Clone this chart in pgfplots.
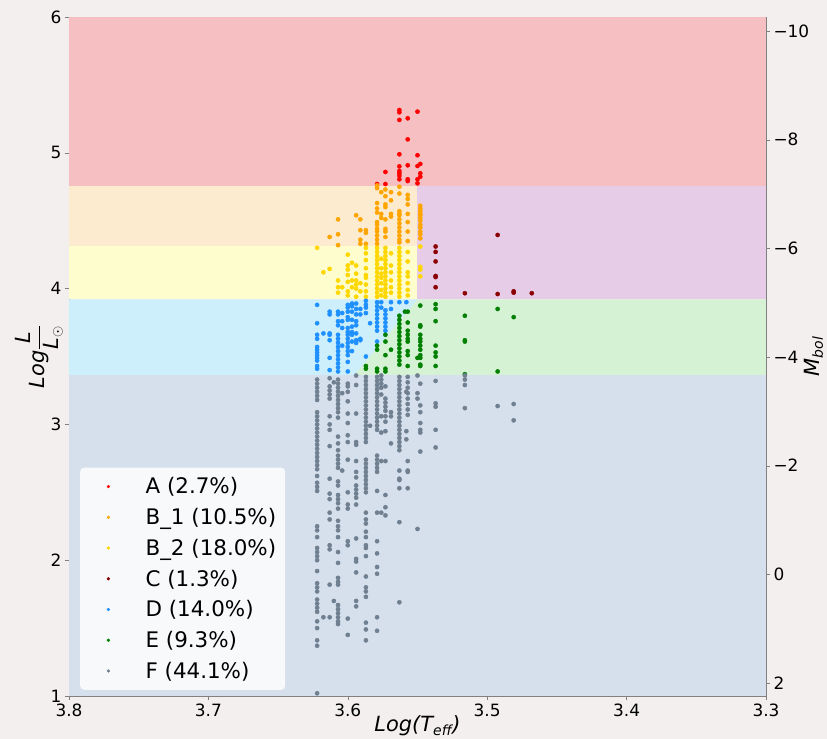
\documentclass[border=0pt]{standalone}
\usepackage{pgfplots}
\pgfplotsset{compat=1.18}
\usepackage{fontspec}
\setmainfont{DejaVu Sans}
\definecolor{bgc}{HTML}{F3EFEE}
\definecolor{rA}{HTML}{F6BFC1}
\definecolor{rB1}{HTML}{FDEBD0}
\definecolor{rB2}{HTML}{FDFDCD}
\definecolor{rC}{HTML}{E6CCE7}
\definecolor{rD}{HTML}{CDEFFC}
\definecolor{rE}{HTML}{D5F2D5}
\definecolor{rF}{HTML}{D6E0EC}
\definecolor{cA}{HTML}{FF0000}
\definecolor{cB1}{HTML}{FFA500}
\definecolor{cB2}{HTML}{FFD700}
\definecolor{cC}{HTML}{8B0000}
\definecolor{cD}{HTML}{1E90FF}
\definecolor{cE}{HTML}{008000}
\definecolor{cF}{HTML}{708090}
\definecolor{legbg}{HTML}{F8F9FB}
\definecolor{spine}{HTML}{808080}
\pgfplotsset{pt/.style={only marks, mark=*, mark size=2.1bp, color=#1, mark options={draw=none, fill=#1}}}
\begin{document}
\begin{tikzpicture}
\path[use as bounding box, fill=bgc] (-69bp,-43bp) rectangle (758bp,696bp);
\begin{axis}[
  at={(0,0)}, anchor=south west,
  scale only axis, width=697bp, height=679bp,
  xmin=3.3, xmax=3.8, x dir=reverse,
  ymin=1, ymax=6,
  xtick={3.8,3.7,3.6,3.5,3.4,3.3}, xticklabels={3.8,3.7,3.6,3.5,3.4,3.3},
  ytick={1,2,3,4,5,6}, yticklabels={1,2,3,4,5,6},
  xtick pos=bottom, ytick pos=left,
  tick align=outside, major tick length=4bp,
  axis line style={draw=spine}, tick style={draw=spine},
  tick label style={font=\fontsize{17}{20}\selectfont},
  label style={font=\fontsize{21}{25}\selectfont},
  xlabel={\itshape Log(T$_{\mbox{\fontsize{14}{16}\selectfont\itshape eff}}$)},
  xlabel style={at={(axis description cs:0.5,-0.053)}, anchor=base},
  ylabel={\itshape Log$\displaystyle\frac{\mbox{\itshape L}}{\mbox{\itshape L}_\odot}$},
  ylabel shift=-19bp,
  legend style={at={(0.0158,0.0088)}, anchor=south west, fill=legbg, draw=none,
    rounded corners=4bp, font=\fontsize{21.5}{25}\selectfont, row sep=9bp, inner xsep=7bp, inner ysep=8bp},
  legend cell align=left,
  legend image code/.code={\draw[#1, mark size=1.4bp] plot coordinates {(21bp,0bp)}; \path (0bp,0bp) (56bp,0bp);},
]
\fill[rA] (axis cs:3.8,4.757) rectangle (axis cs:3.3,6);
\fill[rB1] (axis cs:3.8,4.316) rectangle (axis cs:3.55,4.757);
\fill[rB2] (axis cs:3.8,3.92) rectangle (axis cs:3.55,4.316);
\fill[rC] (axis cs:3.55,3.92) rectangle (axis cs:3.3,4.757);
\fill[rD] (axis cs:3.8,3.92) -- (axis cs:3.55,3.92) -- (axis cs:3.595,3.364) -- (axis cs:3.8,3.364) -- cycle;
\fill[rE] (axis cs:3.55,3.92) -- (axis cs:3.3,3.92) -- (axis cs:3.3,3.364) -- (axis cs:3.595,3.364) -- cycle;
\fill[rF] (axis cs:3.8,1) rectangle (axis cs:3.3,3.364);

\addplot[pt=cA] coordinates {
(3.563,5.315)(3.563,5.298)(3.563,5.242)(3.563,4.989)(3.563,4.90)(3.563,4.866)(3.563,4.849)(3.563,4.831)(3.563,4.805)
(3.557,5.254)(3.557,5.099)(3.557,4.908)(3.557,4.805)(3.557,4.792)
(3.550,5.303)(3.550,4.982)(3.548,4.918)(3.550,4.903)(3.548,4.849)(3.548,4.824)(3.550,4.805)(3.550,4.775)
(3.573,4.859)(3.579,4.77)(3.573,4.77)};
\addlegendentry{A (2.7\%)}

\addplot[pt=cB1] coordinates {
(3.579,4.76)(3.579,4.74)(3.579,4.63)(3.579,4.59)(3.579,4.56)(3.579,4.49)(3.579,4.47)(3.579,4.44)(3.579,4.42)(3.579,4.39)(3.579,4.36)(3.579,4.33)
(3.576,4.71)(3.576,4.55)(3.576,4.52)
(3.573,4.73)(3.573,4.68)(3.573,4.62)(3.573,4.60)(3.573,4.51)(3.573,4.44)(3.573,4.42)(3.573,4.38)
(3.569,4.71)(3.569,4.65)(3.569,4.55)(3.569,4.53)
(3.563,4.75)(3.563,4.70)(3.563,4.57)(3.563,4.55)(3.563,4.54)(3.563,4.51)(3.563,4.48)(3.563,4.45)(3.563,4.42)(3.563,4.39)(3.563,4.36)(3.563,4.34)
(3.557,4.69)(3.557,4.66)(3.557,4.62)(3.557,4.55)(3.557,4.49)(3.557,4.42)(3.557,4.35)
(3.548,4.61)(3.548,4.59)(3.548,4.57)(3.548,4.55)(3.548,4.54)(3.548,4.52)(3.548,4.50)(3.548,4.47)(3.548,4.45)(3.548,4.42)(3.548,4.40)(3.548,4.37)
(3.594,4.54)(3.607,4.51)(3.607,4.40)(3.607,4.32)(3.613,4.38)
(3.591,4.51)(3.591,4.43)(3.591,4.36)(3.591,4.33)
(3.587,4.43)(3.587,4.41)(3.587,4.33)};
\addlegendentry{B\_1 (10.5\%)}

\addplot[pt=cB2] coordinates {
(3.622,4.30)(3.6175,4.12)(3.613,4.145)
(3.607,4.06)(3.607,4.01)(3.607,3.97)(3.604,4.01)
(3.600,4.25)(3.600,4.17)(3.600,4.14)(3.600,4.10)(3.600,4.05)(3.600,3.98)(3.600,3.95)
(3.597,4.19)(3.597,4.06)(3.597,4.01)
(3.594,4.17)(3.594,4.11)(3.594,4.06)(3.594,4.03)(3.594,4.00)(3.594,3.94)
(3.591,4.04)(3.591,3.98)
(3.587,4.30)(3.587,4.26)(3.587,4.21)(3.587,4.15)(3.587,4.10)(3.587,4.08)(3.587,4.03)(3.587,3.98)(3.587,3.94)
(3.579,4.30)(3.579,4.27)(3.579,4.24)(3.579,4.21)(3.579,4.18)(3.579,4.15)(3.579,4.12)(3.579,4.09)(3.579,4.06)(3.579,4.03)(3.579,4.00)(3.579,3.97)(3.579,3.94)
(3.576,4.22)(3.576,4.15)(3.576,4.11)(3.576,4.08)(3.576,4.04)(3.576,3.99)(3.576,3.95)
(3.573,4.30)(3.573,4.27)(3.573,4.24)(3.573,4.21)(3.573,4.18)(3.573,4.15)(3.573,4.12)(3.573,4.09)(3.573,4.06)(3.573,4.03)(3.573,4.00)(3.573,3.97)(3.573,3.94)
(3.569,4.26)(3.569,4.17)(3.569,4.12)(3.569,4.06)(3.569,4.01)(3.569,3.97)
(3.563,4.30)(3.563,4.27)(3.563,4.24)(3.563,4.21)(3.563,4.18)(3.563,4.15)(3.563,4.12)(3.563,4.09)(3.563,4.06)(3.563,4.03)(3.563,4.00)(3.563,3.97)(3.563,3.94)
(3.557,4.27)(3.557,4.20)(3.557,4.12)(3.557,4.09)(3.557,4.04)(3.557,3.99)(3.557,3.95)
(3.548,4.31)(3.548,4.16)(3.548,4.14)(3.548,4.09)};
\addlegendentry{B\_2 (18.0\%)}

\addplot[pt=cC] coordinates {
(3.537,4.31)(3.537,4.27)(3.537,4.20)(3.537,4.093)(3.537,4.085)(3.537,4.01)
(3.516,3.966)(3.4925,4.395)(3.4925,3.96)(3.481,3.98)(3.481,3.97)(3.468,3.966)};
\addlegendentry{C (1.3\%)}

\addplot[pt=cD] coordinates {
(3.622,3.88)(3.622,3.745)(3.622,3.66)(3.622,3.63)(3.622,3.57)(3.622,3.55)(3.622,3.53)(3.622,3.51)(3.622,3.49)(3.622,3.47)(3.622,3.43)(3.622,3.41)
(3.6175,3.67)
(3.613,3.83)(3.613,3.81)(3.613,3.67)(3.613,3.66)(3.613,3.62)(3.613,3.49)(3.613,3.40)
(3.607,3.83)(3.607,3.81)(3.607,3.76)(3.607,3.73)(3.607,3.66)(3.607,3.63)(3.607,3.60)(3.607,3.57)(3.607,3.54)(3.607,3.51)(3.607,3.48)(3.607,3.45)(3.607,3.42)(3.607,3.39)
(3.604,3.82)(3.604,3.76)(3.604,3.71)(3.604,3.58)
(3.600,3.88)(3.600,3.86)(3.600,3.83)(3.600,3.79)(3.600,3.77)(3.600,3.71)(3.600,3.68)(3.600,3.66)(3.600,3.63)(3.600,3.60)(3.600,3.57)(3.600,3.54)(3.600,3.51)(3.600,3.46)(3.600,3.39)
(3.597,3.89)(3.597,3.87)(3.597,3.83)(3.597,3.77)(3.597,3.72)(3.597,3.68)(3.597,3.66)(3.597,3.61)(3.597,3.54)
(3.594,3.89)(3.594,3.85)(3.594,3.81)(3.594,3.76)(3.594,3.73)(3.594,3.67)(3.594,3.62)(3.594,3.60)
(3.591,3.85)(3.591,3.81)(3.591,3.63)(3.591,3.62)
(3.587,3.91)(3.587,3.88)(3.587,3.86)(3.587,3.82)(3.587,3.50)
(3.584,3.745)
(3.579,3.90)(3.579,3.87)(3.579,3.84)(3.579,3.81)(3.579,3.78)(3.579,3.75)(3.579,3.72)(3.579,3.69)(3.579,3.61)
(3.576,3.90)(3.576,3.86)
(3.573,3.84)(3.573,3.81)(3.573,3.78)(3.573,3.75)(3.573,3.72)(3.573,3.69)
(3.569,3.90)(3.569,3.85)(3.563,3.90)(3.558,3.90)};
\addlegendentry{D (14.0\%)}

\addplot[pt=cE] coordinates {
(3.537,3.885)(3.537,3.85)(3.537,3.76)(3.537,3.58)(3.537,3.53)(3.537,3.50)(3.537,3.43)
(3.516,3.80)(3.516,3.62)(3.516,3.61)(3.516,3.37)
(3.4925,3.85)(3.4925,3.39)(3.481,3.79)
(3.548,3.875)(3.548,3.73)(3.548,3.72)(3.548,3.66)(3.548,3.63)(3.548,3.61)(3.548,3.58)(3.548,3.55)(3.548,3.51)(3.548,3.49)(3.548,3.44)(3.548,3.43)
(3.550,3.49)
(3.557,3.83)(3.557,3.75)(3.557,3.69)(3.557,3.66)(3.557,3.63)(3.557,3.61)(3.557,3.54)(3.557,3.51)(3.557,3.43)
(3.563,3.80)(3.563,3.77)(3.563,3.74)(3.563,3.71)(3.563,3.68)(3.563,3.65)(3.563,3.62)(3.563,3.59)(3.563,3.56)(3.563,3.53)(3.563,3.50)(3.563,3.47)(3.563,3.44)
(3.569,3.55)
(3.573,3.66)(3.573,3.61)(3.573,3.51)(3.573,3.41)(3.573,3.39)
(3.579,3.58)(3.579,3.55)(3.579,3.41)(3.579,3.39)
(3.587,3.43)(3.587,3.41)(3.559,3.83)};
\addlegendentry{E (9.3\%)}

\addplot[pt=cF] coordinates {
(3.622,3.33)(3.622,3.30)(3.622,3.27)(3.622,3.24)(3.622,3.21)(3.622,3.18)(3.622,3.09)(3.622,3.06)(3.622,3.03)(3.622,3.00)(3.622,2.97)(3.622,2.94)(3.622,2.91)(3.622,2.88)(3.622,2.85)(3.622,2.82)(3.622,2.79)(3.622,2.76)(3.622,2.73)(3.622,2.70)(3.622,2.67)(3.622,2.62)(3.622,2.57)(3.622,2.54)(3.622,2.51)(3.622,2.25)(3.622,2.22)(3.622,2.17)(3.622,2.09)(3.622,2.06)(3.622,2.03)(3.622,2.00)(3.622,1.92)(3.622,1.83)(3.622,1.80)(3.622,1.77)(3.622,1.71)(3.622,1.68)(3.622,1.65)(3.622,1.62)(3.622,1.55)(3.622,1.50)(3.622,1.41)(3.622,1.37)(3.622,1.02)
(3.6175,1.58)
(3.613,3.34)(3.613,3.28)(3.613,3.25)(3.613,3.22)(3.613,3.19)(3.613,3.06)(3.613,3.00)(3.613,2.96)(3.613,2.84)(3.613,2.60)(3.613,2.49)(3.613,2.45)(3.613,2.35)(3.613,2.30)(3.613,2.11)(3.613,2.08)(3.613,1.82)(3.613,1.58)
(3.610,3.31)(3.610,1.70)
(3.607,3.33)(3.607,3.30)(3.607,3.27)(3.607,3.24)(3.607,3.21)(3.607,3.18)(3.607,3.15)(3.607,3.12)(3.607,3.09)(3.607,3.05)(3.607,2.91)(3.607,2.86)(3.607,2.81)(3.607,2.77)(3.607,2.74)(3.607,2.71)(3.607,2.68)(3.607,2.58)(3.607,2.55)(3.607,2.48)(3.607,2.45)(3.607,2.42)(3.607,2.38)(3.607,2.29)(3.607,2.25)(3.607,2.22)(3.607,2.17)(3.607,2.06)(3.607,1.98)(3.607,1.87)(3.607,1.84)(3.607,1.82)(3.607,1.67)(3.607,1.64)(3.607,1.61)(3.607,1.58)(3.607,1.55)(3.607,1.53)
(3.604,3.23)(3.604,2.66)
(3.600,3.30)(3.600,3.28)(3.600,3.24)(3.600,3.17)(3.600,3.08)(3.600,3.01)(3.600,2.92)(3.600,2.87)(3.600,2.74)(3.600,2.50)(3.600,2.41)(3.600,2.38)(3.600,2.14)(3.600,2.11)(3.600,1.57)(3.600,1.45)
(3.594,3.36)(3.594,3.29)(3.594,3.08)(3.594,2.87)(3.594,2.85)(3.594,2.73)(3.594,2.65)(3.594,2.61)(3.594,2.55)(3.594,2.52)(3.594,2.49)(3.594,2.46)(3.594,2.41)(3.594,2.16)(3.594,2.01)(3.594,1.99)(3.594,1.91)(3.594,1.70)(3.594,1.66)
(3.587,3.35)(3.587,3.32)(3.587,3.29)(3.587,3.26)(3.587,3.23)(3.587,3.20)(3.587,3.17)(3.587,3.14)(3.587,3.11)(3.587,3.08)(3.587,3.05)(3.587,3.02)(3.587,2.99)(3.587,2.96)(3.587,2.93)(3.587,2.90)(3.587,2.87)(3.587,2.74)(3.587,2.71)(3.587,2.68)(3.587,2.65)(3.587,2.62)(3.587,2.59)(3.587,2.56)(3.587,2.53)(3.587,2.50)(3.587,2.35)(3.587,2.30)(3.587,2.27)(3.587,2.21)(3.587,2.17)(3.587,2.11)(3.587,2.09)(3.587,2.03)(3.587,1.88)(3.587,1.80)(3.587,1.77)(3.587,1.73)(3.587,1.54)(3.587,1.49)(3.587,1.41)
(3.584,2.99)
(3.579,3.35)(3.579,3.32)(3.579,3.29)(3.579,3.26)(3.579,3.23)(3.579,3.20)(3.579,3.17)(3.579,3.14)(3.579,3.11)(3.579,3.08)(3.579,3.05)(3.579,3.02)(3.579,2.99)(3.579,2.96)(3.579,2.77)(3.579,2.74)(3.579,2.71)(3.579,2.68)(3.579,2.65)(3.579,2.51)(3.579,2.35)(3.579,2.14)(3.579,2.05)(3.579,1.95)(3.579,1.90)(3.579,1.58)(3.579,1.48)
(3.576,3.36)(3.576,3.33)(3.576,3.30)(3.576,3.27)(3.576,3.22)(3.576,3.06)(3.576,2.94)(3.576,2.73)(3.576,2.35)
(3.573,3.28)(3.573,3.19)(3.573,3.16)(3.573,3.13)(3.573,3.10)(3.573,3.06)(3.573,3.02)(3.573,2.95)(3.573,2.73)(3.573,2.48)(3.573,2.39)(3.573,2.33)
(3.569,3.09)(3.569,3.06)(3.569,2.86)
(3.563,3.35)(3.563,3.32)(3.563,3.29)(3.563,3.26)(3.563,3.23)(3.563,3.20)(3.563,3.17)(3.563,3.14)(3.563,3.11)(3.563,3.08)(3.563,3.05)(3.563,3.02)(3.563,2.99)(3.563,2.96)(3.563,2.93)(3.563,2.90)(3.563,2.87)(3.563,2.84)(3.563,2.81)(3.563,2.66)(3.563,2.60)(3.563,2.59)(3.563,2.53)(3.563,2.28)(3.563,1.69)
(3.558,3.24)(3.558,2.95)(3.558,2.89)
(3.557,3.35)(3.557,3.31)(3.557,3.27)(3.557,3.23)(3.557,3.19)(3.557,3.15)(3.557,3.11)(3.557,3.07)(3.557,2.73)(3.557,2.66)(3.557,2.65)(3.557,2.53)
(3.548,3.30)(3.548,3.14)(3.548,3.09)(3.548,3.01)(3.548,2.96)(3.548,2.94)(3.548,2.80)
(3.550,3.36)(3.550,3.23)(3.550,3.19)(3.550,2.23)
(3.537,3.32)(3.537,3.155)(3.537,3.13)(3.537,2.96)(3.537,2.83)
(3.516,3.36)(3.516,3.33)(3.516,3.29)(3.516,3.12)
(3.4925,3.135)(3.481,3.15)(3.481,3.03)};
\addlegendentry{F (44.1\%)}
\end{axis}
\begin{axis}[
  at={(0,0)}, anchor=south west,
  scale only axis, width=697bp, height=679bp,
  xmin=3.3, xmax=3.8, hide x axis,
  axis y line*=right,
  ymin=-10.26, ymax=2.24, y dir=reverse,
  ytick={-10,-8,-6,-4,-2,0,2}, yticklabels={−10,−8,−6,−4,−2,0,2},
  tick align=outside, major tick length=4bp,
  axis line style={draw=spine}, tick style={draw=spine},
  tick label style={font=\fontsize{17}{20}\selectfont},
  label style={font=\fontsize{21}{25}\selectfont},
  ylabel={\itshape M$_{\mbox{\fontsize{14}{16}\selectfont\itshape bol}}$},
  ylabel shift=-12bp,
]
\end{axis}
\end{tikzpicture}
\end{document}
